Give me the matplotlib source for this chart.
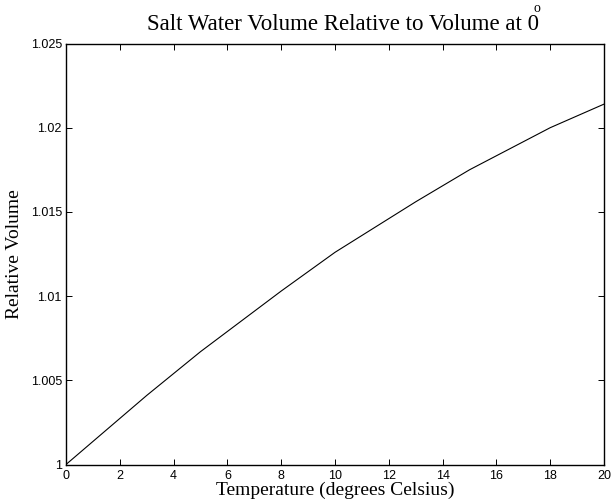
import matplotlib
matplotlib.use("Agg")
import matplotlib.pyplot as plt

temperature = [0, 3, 5, 8, 10, 13, 15, 18, 20]
relative_volume = [1.0, 1.0041, 1.0067, 1.0103, 1.0126, 1.0156, 1.0175, 1.0200, 1.0214]
x_ticks = [0, 2, 4, 6, 8, 10, 12, 14, 16, 18, 20]
y_ticks = [1.0, 1.005, 1.01, 1.015, 1.02, 1.025]
y_tick_labels = ["1", "1.005", "1.01", "1.015", "1.02", "1.025"]

fig = plt.figure(figsize=(6.13, 5.01), dpi=100)
ax = fig.add_axes([66/613, 1 - 464.5/501, (604 - 66)/613, (464.5 - 43.5)/501])
ax.plot(temperature, relative_volume, color="black", linewidth=0.8)
ax.set_xlim(0, 20)
ax.set_ylim(1.0, 1.025)
ax.set_xticks(x_ticks)
ax.set_xticklabels([str(t) for t in x_ticks], family="Liberation Sans", fontsize=9)
ax.set_yticks(y_ticks)
ax.set_yticklabels(y_tick_labels, family="Liberation Sans", fontsize=9)
ax.tick_params(direction="in", length=4, width=0.7, top=True, right=True, pad=3)
ax.tick_params(axis="x", pad=4)
for s in ax.spines.values():
    s.set_linewidth(1.0)
fig.text(335/613, 1 - 490/501, "Temperature (degrees Celsius)", family="Liberation Serif",
         fontsize=14, ha="center", va="center")
fig.text(15/613, 1 - 254/501, "Relative Volume", family="Liberation Serif",
         fontsize=14, ha="center", va="center", rotation=90)
fig.text(343/613, 1 - 25/501, "Salt Water Volume Relative to Volume at 0",
         family="Liberation Serif", fontsize=16.5, ha="center", va="center")
fig.text(537/613, 1 - 9/501, "o", family="Liberation Serif", fontsize=10, ha="center", va="center")
fig.savefig("out.png", dpi=100)
